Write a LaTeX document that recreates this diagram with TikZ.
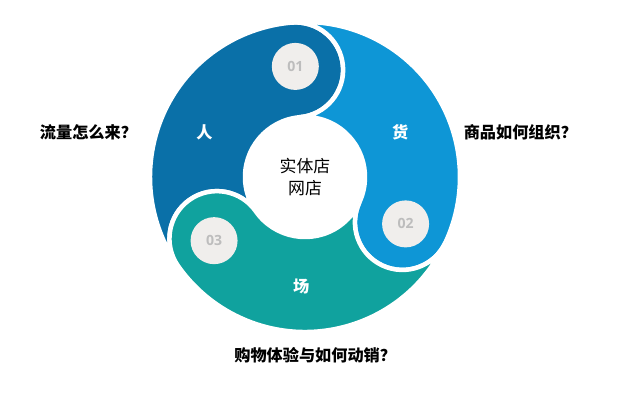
\documentclass[tikz,border=0pt]{standalone}
\usepackage{fontspec}
\setmainfont{Open Sans}
\newfontfamily\cjk{Noto Sans CJK SC}
\usepackage{tikz}
\usetikzlibrary{positioning}

\definecolor{renblue}{HTML}{0A70A8}
\definecolor{huoblue}{HTML}{0E96D6}
\definecolor{changteal}{HTML}{10A29E}
\definecolor{badgegray}{HTML}{F0EEEC}
\definecolor{numgray}{HTML}{BDBDBD}

% one piece of the ring: round head at #1, hollow tail at #1+120
\newcommand{\ringseg}[2]{%
  \filldraw[seg,fill=#2] (#1:155)
    arc[start angle=#1, end angle=#1-180, radius=47.5]
    arc[start angle=#1, end angle=#1+120, radius=60]
    arc[start angle=#1-60, end angle=#1+120, radius=47.5]
    arc[start angle=#1+120, end angle=#1, radius=155] -- cycle;}

\begin{document}
\begin{tikzpicture}[x=0.025cm,y=0.025cm,node distance=2.9cm,
    seg/.style={draw=white,line width=3.2pt},
    badge/.style={circle,fill=badgegray,minimum size=1.175cm,inner sep=0pt,text=numgray,font=\bfseries\fontsize{10}{12}\selectfont},
    tag/.style={text=white,font=\cjk\bfseries\fontsize{11.5}{13}\selectfont},
    ask/.style={font=\cjk\bfseries\fontsize{11.5}{14}\selectfont}]
    \useasboundingbox (0,0) rectangle (640,405);
    \begin{scope}[shift={(305,228)}]
        \ringseg{95}{renblue}
        \ringseg{-25}{huoblue}
        \ringseg{215}{changteal}

        \node[badge] (n1) at (95:111) {01};
        \node[badge] (n2) at (-25:111) {02};
        \node[badge] (n3) at (215:111) {03};

        \node[tag] (ren) at (156:110) {人};
        \node[tag] (huo) at (25:105) {货};
        \node[tag] (chang) at (268:110) {场};

        \node[align=center,font=\cjk\fontsize{12}{15.5}\selectfont] (mid) at (0,0) {实体店\\网店};
    \end{scope}

    \node[ask] (q1) [left of=ren] {流量怎么来？};
    \node[ask] (q2) [right of=huo,xshift=3] {商品如何组织？};
    \node[ask] (q3) [below of=chang,node distance=1.7cm,xshift=10] {购物体验与如何动销？};
\end{tikzpicture}
\end{document}
